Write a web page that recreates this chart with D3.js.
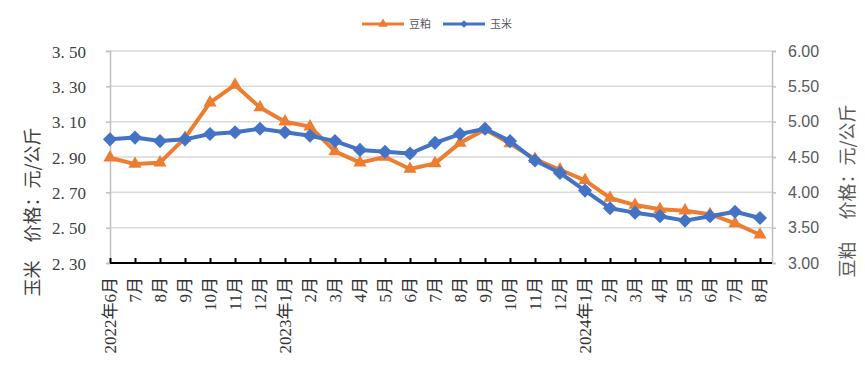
<!DOCTYPE html>
<html><head><meta charset="utf-8">
<script src="https://cdn.jsdelivr.net/npm/d3@7"></script>
<style>body{margin:0;background:#fff}svg{display:block}</style>
</head><body>
<svg id="c" width="865" height="379"></svg>
<script>
const categories = ["2022年6月","7月","8月","9月","10月","11月","12月","2023年1月","2月","3月","4月","5月","6月","7月","8月","9月","10月","11月","12月","2024年1月","2月","3月","4月","5月","6月","7月","8月"];
const cornValues = [3.00,3.01,2.99,3.00,3.03,3.04,3.06,3.04,3.02,2.99,2.94,2.93,2.92,2.98,3.03,3.06,2.99,2.88,2.81,2.71,2.61,2.585,2.565,2.54,2.565,2.59,2.555];
const soyValues = [4.49,4.40,4.42,4.77,5.27,5.52,5.20,5.00,4.93,4.58,4.42,4.50,4.33,4.41,4.70,4.89,4.69,4.47,4.32,4.17,3.92,3.82,3.76,3.74,3.69,3.56,3.40];
const leftTicks = [2.30,2.50,2.70,2.90,3.10,3.30,3.50];
const rightTicks = [3.00,3.50,4.00,4.50,5.00,5.50,6.00];
const seriesNames = ["豆粕","玉米"];

const svg = d3.select("#c");
const L = 110, R = 772, T = 51, B = 263;
const x = d3.scalePoint().domain(d3.range(categories.length)).range([L, 760]);
const yL = d3.scaleLinear().domain([2.30,3.50]).range([B,T]);
const yR = d3.scaleLinear().domain([3.00,6.00]).range([B,T]);

// gridlines
svg.append("g").selectAll("line").data(leftTicks.slice(1)).join("line")
  .attr("x1",L).attr("x2",R).attr("y1",d=>yL(d)).attr("y2",d=>yL(d))
  .attr("stroke","#d9d9d9").attr("stroke-width",1.5);

// left axis
const gl = svg.append("g").attr("transform",`translate(${L},0)`)
  .call(d3.axisLeft(yL).tickValues(leftTicks).tickSize(4).tickPadding(20).tickFormat(d=>d3.format(".2f")(d).replace(".",". ")));
gl.select(".domain").attr("stroke","#bfbfbf").attr("stroke-width",1.5);
gl.selectAll(".tick line").attr("stroke","#bfbfbf").attr("stroke-width",1.5);
gl.selectAll(".tick text").attr("font-family","'Liberation Serif','DejaVu Serif',serif").attr("font-size",17).attr("fill","#404040").attr("dy","0.36em");

// right axis
const gr = svg.append("g").attr("transform",`translate(${R},0)`)
  .call(d3.axisRight(yR).tickValues(rightTicks).tickSize(4).tickPadding(12).tickFormat(d3.format(".2f")));
gr.select(".domain").attr("stroke","#bfbfbf").attr("stroke-width",1.5);
gr.selectAll(".tick line").attr("stroke","#bfbfbf").attr("stroke-width",1.5);
gr.selectAll(".tick text").attr("font-family","'Liberation Sans',Arial,sans-serif").attr("font-size",16).attr("fill","#595959");

// x axis
const gx = svg.append("g").attr("transform",`translate(0,${B})`)
  .call(d3.axisBottom(x).tickSize(-5).tickFormat(""));
gx.select(".domain").remove();
gx.append("line").attr("x1",L).attr("x2",R).attr("stroke","#000").attr("stroke-width",2.2);
gx.selectAll(".tick line").attr("stroke","#000").attr("stroke-width",2);
svg.append("g").selectAll("text").data(categories).join("text")
  .attr("transform",(d,i)=>`translate(${x(i)+6},277) rotate(-90)`)
  .attr("text-anchor","end")
  .attr("font-family","'Liberation Serif','DejaVu Serif','Noto Sans CJK SC',serif")
  .attr("font-size",17).attr("fill","#333").text(d=>d);

// axis titles
svg.append("text").attr("transform","translate(39,212) rotate(-90)").attr("text-anchor","middle")
  .attr("font-family","'Noto Sans CJK SC',sans-serif").attr("font-size",18).attr("fill","#404040")
  .attr("xml:space","preserve").text("玉米　价格：元/公斤");
svg.append("text").attr("transform","translate(854,191) rotate(-90)").attr("text-anchor","middle")
  .attr("font-family","'Noto Sans CJK SC',sans-serif").attr("font-size",18).attr("fill","#595959")
  .attr("xml:space","preserve").text("豆粕　 价格：元/公斤");

const orange = "#ED7D31", blue = "#4472C4";
const lineSoy = d3.line().x((d,i)=>x(i)).y(d=>yR(d));
const lineCorn = d3.line().x((d,i)=>x(i)).y(d=>yL(d));
svg.append("path").datum(soyValues).attr("d",lineSoy).attr("fill","none").attr("stroke",orange).attr("stroke-width",4).attr("stroke-linejoin","round");
svg.append("g").selectAll("path").data(soyValues).join("path")
  .attr("d",d3.symbol(d3.symbolTriangle,75)).attr("transform",(d,i)=>`translate(${x(i)},${yR(d)})`).attr("fill",orange);
svg.append("path").datum(cornValues).attr("d",lineCorn).attr("fill","none").attr("stroke",blue).attr("stroke-width",4).attr("stroke-linejoin","round");
svg.append("g").selectAll("path").data(cornValues).join("path")
  .attr("d",d3.symbol(d3.symbolSquare,100)).attr("transform",(d,i)=>`translate(${x(i)},${yL(d)}) rotate(45)`).attr("fill",blue);

// legend
const leg = svg.append("g").attr("transform","translate(0,24)");
const legX = [362, 443], legColors=[orange, blue];
seriesNames.forEach((n,k)=>{
  const g = leg.append("g").attr("transform",`translate(${legX[k]},0)`);
  g.append("line").attr("x1",0).attr("x2",42).attr("stroke",legColors[k]).attr("stroke-width",3);
  g.append("path").attr("d",k===0?d3.symbol(d3.symbolTriangle,40):d3.symbol(d3.symbolSquare,30)).attr("transform",k===0?"translate(21,0)":"translate(21,0) rotate(45)").attr("fill",legColors[k]);
  g.append("text").attr("x",47).attr("dy","0.35em").attr("font-family","'Noto Sans CJK SC',sans-serif").attr("font-size",11).attr("fill","#595959").text(n);
});
</script>
</body></html>
